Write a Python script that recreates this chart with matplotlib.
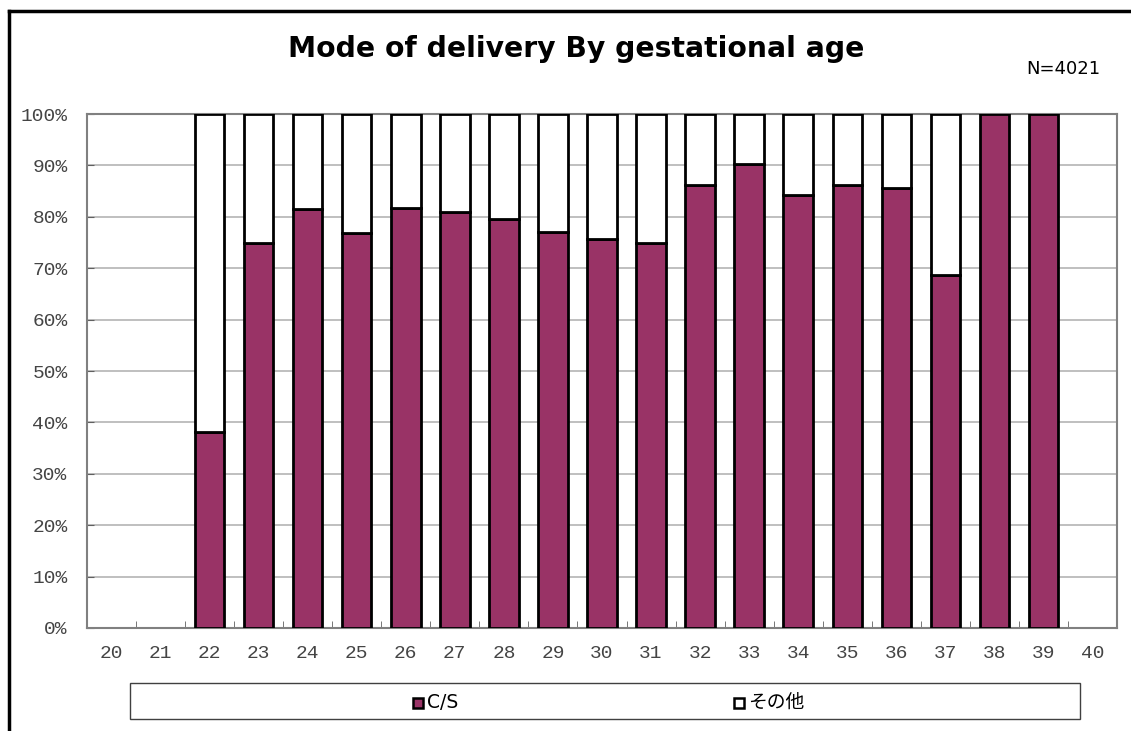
import matplotlib
matplotlib.use("Agg")
import matplotlib.pyplot as plt
from matplotlib.patches import Rectangle
from matplotlib.lines import Line2D
import numpy as np

# gestational age (weeks) and share of each delivery mode (%)
weeks = list(range(20, 41))
cs = [0, 0, 38.1, 74.9, 81.6, 76.8, 81.7, 80.9, 79.6, 77.1, 75.7,
      75.0, 86.2, 90.3, 84.2, 86.1, 85.7, 68.6, 100, 100, 0]
other = [0, 0, 61.9, 25.1, 18.4, 23.2, 18.3, 19.1, 20.4, 22.9, 24.3,
         25.0, 13.8, 9.7, 15.8, 13.9, 14.3, 31.4, 0, 0, 0]
labels = ["C/S", "その他"]
title = "Mode of delivery By gestational age"
n_text = "N=4021"

CS_COLOR = "#993366"
W, H = 1131, 731


def fx(x):
    return x / W


def fy(y):
    return 1 - y / H


plt.rcParams["font.family"] = ["DejaVu Sans", "Noto Sans CJK JP"]

fig = plt.figure(figsize=(W / 100, H / 100), dpi=100)
ax = fig.add_axes([fx(87), fy(628), (1117 - 87) / W, (628 - 114) / H])

x = np.array(weeks)
cs_a = np.array(cs, dtype=float)
ot_a = np.array(other, dtype=float)
m1 = cs_a > 0
m2 = ot_a > 0
ax.bar(x[m1], cs_a[m1], width=0.6, color=CS_COLOR, edgecolor="black",
       linewidth=2, zorder=3)
ax.bar(x[m2], ot_a[m2], bottom=cs_a[m2], width=0.6, color="white",
       edgecolor="black", linewidth=2, zorder=3)

ax.set_xlim(19.5, 40.5)
ax.set_ylim(0, 100)
ax.set_yticks(range(0, 101, 10))
ax.set_yticklabels(["%d%%" % v for v in range(0, 101, 10)])
ax.set_xticks(weeks)
ax.set_xticklabels([str(w) for w in weeks])
ax.set_xticks(np.arange(19.5, 40.6, 1), minor=True)

ax.yaxis.grid(True, color="#b4b4b4", linewidth=1.2, zorder=0)
ax.set_axisbelow(True)
for s in ax.spines.values():
    s.set_color("#808080")
    s.set_linewidth(1.5)

ax.tick_params(axis="y", direction="in", length=5, color="#606060",
               pad=14, labelsize=14, labelcolor="#444444",
               labelfontfamily="Liberation Mono")
ax.tick_params(axis="x", which="major", length=0, pad=12, labelsize=14,
               labelcolor="#444444", labelfontfamily="Liberation Mono")
ax.tick_params(axis="x", which="minor", direction="in", length=5,
               color="#606060")

fig.text(fx(576), fy(49), title, ha="center", va="center", fontsize=20.3,
         fontweight="bold")
fig.text(fx(1100), fy(69), n_text, ha="right", va="center", fontsize=13)

# outer frame of the chart
fig.add_artist(Line2D([fx(9), fx(9)], [fy(11), 0], color="black", lw=2.5))
fig.add_artist(Line2D([fx(9), 1], [fy(11), fy(11)], color="black", lw=2.5))

# legend box
fig.add_artist(Rectangle((fx(130), fy(719)), 950 / W, 36 / H,
                         facecolor="white", edgecolor="#404040", lw=1))
for lx, lab, col in [(413, labels[0], CS_COLOR), (734, labels[1], "white")]:
    fig.add_artist(Rectangle((fx(lx), fy(708)), 10 / W, 10 / H,
                             facecolor=col, edgecolor="black", lw=1.8))
    fig.text(fx(lx + 14), fy(702), lab, ha="left", va="center", fontsize=13.5)

fig.savefig("out.png", dpi=100)
